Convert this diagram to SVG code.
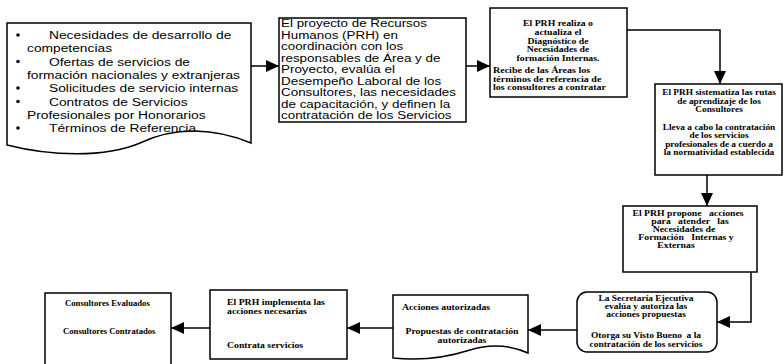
<svg xmlns="http://www.w3.org/2000/svg" width="784" height="364" viewBox="0 0 784 364">
  <defs>
    <marker id="arrow" markerUnits="userSpaceOnUse" markerWidth="13" markerHeight="12" refX="13" refY="6" orient="auto">
      <path d="M0,0 L13,6 L0,12 Z" fill="#000"/>
    </marker>
  </defs>
  <style>
    .box { fill: #fff; stroke: #000; stroke-width: 1.5; }
    .conn { fill: none; stroke: #000; stroke-width: 1.5; marker-end: url(#arrow); }
    .sans { font-family: "Liberation Sans", Arial, sans-serif; fill: #000; }
    .big { font-size: 11.5px; }
    .mid { font-size: 11px; }
    .small { font-family: "Liberation Serif", "Times New Roman", serif; font-weight: bold; font-size: 8.5px; fill: #000; }
    .tiny { font-size: 8px; }
    .c { text-anchor: middle; }
  </style>

  <rect width="784" height="364" fill="#fff"/>

  <!-- connectors -->
  <g id="connectors">
    <path class="conn" d="M251,66 H279"/>
    <path class="conn" d="M466,66 H490"/>
    <path class="conn" d="M627,30 H720 V84"/>
    <path class="conn" d="M707,175 V206"/>
    <path class="conn" d="M751,272 V322 H717"/>
    <path class="conn" d="M577,330 H528"/>
    <path class="conn" d="M393,328 H347"/>
    <path class="conn" d="M210,328 H171"/>
  </g>

  <!-- inputs document -->
  <g id="inputs">
    <path class="box" d="M7,23 H251 V143 C215,128 175,126 140,143 C105,158 50,156 7,145 Z"/>
    <g fill="#000">
      <circle cx="18" cy="35" r="1.8"/>
      <circle cx="18" cy="61.5" r="1.8"/>
      <circle cx="18" cy="88" r="1.8"/>
      <circle cx="18" cy="101.5" r="1.8"/>
      <circle cx="18" cy="128" r="1.8"/>
    </g>
    <g class="sans big">
      <text transform="translate(49,39) scale(1.2,1)">Necesidades de desarrollo de</text>
      <text transform="translate(27,52.3) scale(1.2,1)">competencias</text>
      <text transform="translate(49,65.6) scale(1.2,1)">Ofertas de servicios de</text>
      <text transform="translate(27,78.9) scale(1.2,1)">formación nacionales y extranjeras</text>
      <text transform="translate(49,92.2) scale(1.2,1)">Solicitudes de servicio internas</text>
      <text transform="translate(49,105.5) scale(1.2,1)">Contratos de Servicios</text>
      <text transform="translate(27,118.8) scale(1.2,1)">Profesionales por Honorarios</text>
      <text transform="translate(49,132.1) scale(1.2,1)">Términos de Referencia</text>
    </g>
  </g>

  <!-- evaluation step -->
  <g id="evaluacion">
    <rect class="box" x="279" y="18" width="187" height="104"/>
    <g class="sans mid">
      <text transform="translate(281,27) scale(1.22,1)">El proyecto de Recursos</text>
      <text transform="translate(281,38.5) scale(1.22,1)">Humanos (PRH) en</text>
      <text transform="translate(281,50) scale(1.22,1)">coordinación con los</text>
      <text transform="translate(281,61.5) scale(1.22,1)">responsables de Área y de</text>
      <text transform="translate(281,73) scale(1.22,1)">Proyecto, evalúa el</text>
      <text transform="translate(281,84.5) scale(1.22,1)">Desempeño Laboral de los</text>
      <text transform="translate(281,96) scale(1.22,1)">Consultores, las necesidades</text>
      <text transform="translate(281,107.5) scale(1.22,1)">de capacitación, y definen la</text>
      <text transform="translate(281,119) scale(1.22,1)">contratación de los Servicios</text>
    </g>
  </g>

  <!-- diagnosis step -->
  <g id="diagnostico">
    <rect class="box" x="490" y="8" width="137" height="89"/>
    <g class="small">
      <text class="c" transform="translate(558,26) scale(1.15,1)">El PRH realiza o</text>
      <text class="c" transform="translate(558,35) scale(1.15,1)">actualiza el</text>
      <text class="c" transform="translate(558,43.5) scale(1.15,1)">Diagnóstico de</text>
      <text class="c" transform="translate(558,52) scale(1.15,1)">Necesidades de</text>
      <text class="c" transform="translate(558,61) scale(1.15,1)">formación Internas.</text>
      <text transform="translate(493,73) scale(1.18,1)">Recibe de las Áreas los</text>
      <text transform="translate(493,81.5) scale(1.18,1)">términos de referencia de</text>
      <text transform="translate(493,90) scale(1.18,1)">los consultores a contratar</text>
    </g>
  </g>

  <!-- learning routes / hiring -->
  <g id="rutas">
    <rect class="box" x="655" y="84" width="127" height="91"/>
    <g class="small c">
      <text transform="translate(719,95) scale(1.1,1)">El PRH sistematiza las rutas</text>
      <text transform="translate(719,103.5) scale(1.1,1)">de aprendizaje de los</text>
      <text transform="translate(719,112) scale(1.1,1)">Consultores</text>
      <text transform="translate(719,130) scale(1.1,1)">Lleva a cabo la contratación</text>
      <text transform="translate(719,138) scale(1.1,1)">de los servicios</text>
      <text transform="translate(719,146.5) scale(1.1,1)">profesionales de a cuerdo a</text>
      <text transform="translate(719,155) scale(1.1,1)">la normatividad establecida</text>
    </g>
  </g>

  <!-- proposed actions -->
  <g id="propuesta">
    <rect class="box" x="623" y="206" width="134" height="66"/>
    <g class="small c">
      <text transform="translate(688,216) scale(1.15,1)">El PRH propone&#160;&#160;&#160;acciones</text>
      <text transform="translate(690,224) scale(1.15,1)">para&#160;&#160;&#160;atender&#160;&#160;&#160;las</text>
      <text transform="translate(684,232) scale(1.15,1)">Necesidades de</text>
      <text transform="translate(686,240) scale(1.15,1)">Formación&#160;&#160;&#160;Internas y</text>
      <text transform="translate(676,248) scale(1.15,1)">Externas</text>
    </g>
  </g>

  <!-- executive secretary approval -->
  <g id="secretaria">
    <rect class="box" x="577" y="292" width="140" height="60" rx="10" ry="10"/>
    <g class="small tiny c">
      <text transform="translate(646,300.5) scale(1.18,1)">La Secretaría Ejecutiva</text>
      <text transform="translate(646,308.5) scale(1.18,1)">evalúa y autoriza las</text>
      <text transform="translate(646,316.5) scale(1.18,1)">acciones propuestas</text>
      <text transform="translate(646,338) scale(1.18,1)">Otorga su Visto Bueno&#160;&#160;a la</text>
      <text transform="translate(646,347) scale(1.18,1)">contratación de los servicios</text>
    </g>
  </g>

  <!-- authorized actions document -->
  <g id="autorizadas">
    <path class="box" d="M393,295 H528 V353 C510,345 492,343 470,350 C445,358 420,361 393,358 Z"/>
    <g class="small">
      <text transform="translate(402,310) scale(1.15,1)">Acciones autorizadas</text>
      <text class="c" transform="translate(462,334) scale(1.15,1)">Propuestas de contratación</text>
      <text class="c" transform="translate(462,343) scale(1.15,1)">autorizadas</text>
    </g>
  </g>

  <!-- implementation -->
  <g id="implementa">
    <rect class="box" x="210" y="290" width="137" height="69"/>
    <g class="small">
      <text transform="translate(227,305) scale(1.15,1)">El PRH implementa las</text>
      <text transform="translate(227,314) scale(1.15,1)">acciones necesarias</text>
      <text transform="translate(227,348) scale(1.15,1)">Contrata servicios</text>
    </g>
  </g>

  <!-- results -->
  <g id="resultados">
    <path class="box" d="M45,366 V293 H171 V366"/>
    <g class="small">
      <text transform="translate(65,306) scale(1.02,1)">Consultores Evaluados</text>
      <text transform="translate(63,334) scale(1.02,1)">Consultores Contratados</text>
    </g>
  </g>
</svg>
